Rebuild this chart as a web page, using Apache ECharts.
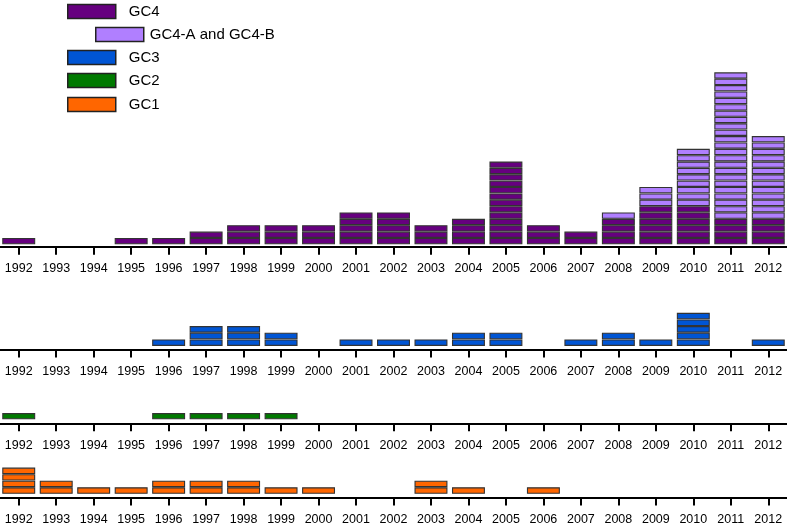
<!DOCTYPE html>
<html>
<head>
<meta charset="utf-8">
<script src="https://cdn.jsdelivr.net/npm/echarts@6/dist/echarts.min.js"></script>
<style>html,body{margin:0;padding:0;background:#fff}#c{width:787px;height:526px}</style>
</head>
<body>
<div id="c"></div>
<script>
const years = ['1992','1993','1994','1995','1996','1997','1998','1999','2000','2001','2002','2003','2004','2005','2006','2007','2008','2009','2010','2011','2012'];
const gc4   = [1,0,0,1,1,2,3,3,3,5,5,3,4,13,3,2,4,6,6,4,4];
const gc4ab = [0,0,0,0,0,0,0,0,0,0,0,0,0,0,0,0,1,3,9,23,13];
const gc3   = [0,0,0,0,1,3,3,2,0,1,1,1,2,2,0,1,2,1,5,0,1];
const gc2   = [1,0,0,0,1,1,1,1,0,0,0,0,0,0,0,0,0,0,0,0,0];
const gc1   = [4,2,1,1,2,2,2,1,1,0,0,2,1,0,1,0,0,0,0,0,0];

const colors = {gc4:'#66007f', gc4ab:'#b07fff', gc3:'#0055d4', gc2:'#007a00', gc1:'#ff6600'};

// panel layout: baseline of boxes, unit px, ymax, axis line gap below baseline
const panels = [
  {base:244.3, unit:6.37, ymax:28, off:2.5},
  {base:346,   unit:6.65, ymax:6,  off:3.5},
  {base:419.3, unit:6.3,  ymax:2,  off:4},
  {base:494.5, unit:6.7,  ymax:5,  off:3.8}
];

const grids = panels.map(p => ({left:0, width:787, top:p.base - p.ymax*p.unit, height:p.ymax*p.unit + p.off}));
const xAxes = panels.map((p,i) => ({
  type:'category', gridIndex:i, data:years,
  axisLine:{show:true, onZero:false, lineStyle:{color:'#000', width:2}},
  axisTick:{show:true, alignWithLabel:true, length:8, lineStyle:{color:'#000', width:2}},
  axisLabel:{show:true, interval:0, margin:15.5, fontSize:12.5, color:'#000', fontFamily:'Liberation Sans, Arial, sans-serif'}
}));
const yAxes = panels.map((p,i) => ({type:'value', gridIndex:i, min:-p.off/p.unit, max:p.ymax, show:false}));

function boxRender(color){
  return function(params, api){
    const x = api.value(0), base = api.value(1), n = api.value(2);
    if (!n) return null;
    const w = api.size([1,0])[0]*0.85;
    const children = [];
    for (let k=0;k<n;k++){
      const p0 = api.coord([x, base+k]);
      const p1 = api.coord([x, base+k+1]);
      children.push({type:'rect', shape:{x:p0[0]-w/2, y:p1[1]+0.6, width:w, height:p0[1]-p1[1]-1.2},
        style:{fill:color, stroke:'#333', lineWidth:1.1}});
    }
    return {type:'group', children};
  };
}
function mkSeries(name, arr, baseArr, color, gi){
  return {
    type:'custom', name, xAxisIndex:gi, yAxisIndex:gi,
    itemStyle:{color, borderColor:'#222', borderWidth:1.5},
    renderItem: boxRender(color),
    encode:{x:0, y:[1,2]},
    data: arr.map((v,i)=>[i, baseArr ? baseArr[i] : 0, v])
  };
}
const series = [
  mkSeries('GC4', gc4, null, colors.gc4, 0),
  mkSeries('GC4-A and GC4-B', gc4ab, gc4, colors.gc4ab, 0),
  mkSeries('GC3', gc3, null, colors.gc3, 1),
  mkSeries('GC2', gc2, null, colors.gc2, 2),
  mkSeries('GC1', gc1, null, colors.gc1, 3)
];

const legendPos = [
  {name:'GC4', left:67, top:3, gap:8},
  {name:'GC4-A and GC4-B', left:95, top:26, gap:1},
  {name:'GC3', left:67, top:49, gap:8},
  {name:'GC2', left:67, top:72, gap:8},
  {name:'GC1', left:67, top:96, gap:8}
];
const legends = legendPos.map(l => ({
  data:[l.name], left:l.left, top:l.top, padding:0, orient:'horizontal',
  icon:'rect', itemWidth:48, itemHeight:14, selectedMode:false,
  itemStyle:{borderColor:'#222', borderWidth:1.5},
  textStyle:{fontSize:15, color:'#000', lineHeight:14, padding:[3,0,0,l.gap], fontFamily:'Liberation Sans, Arial, sans-serif'}
}));

const chart = echarts.init(document.getElementById('c'));
chart.setOption({
  animation:false,
  grid:grids, xAxis:xAxes, yAxis:yAxes, legend:legends, series
});
</script>
</body>
</html>
